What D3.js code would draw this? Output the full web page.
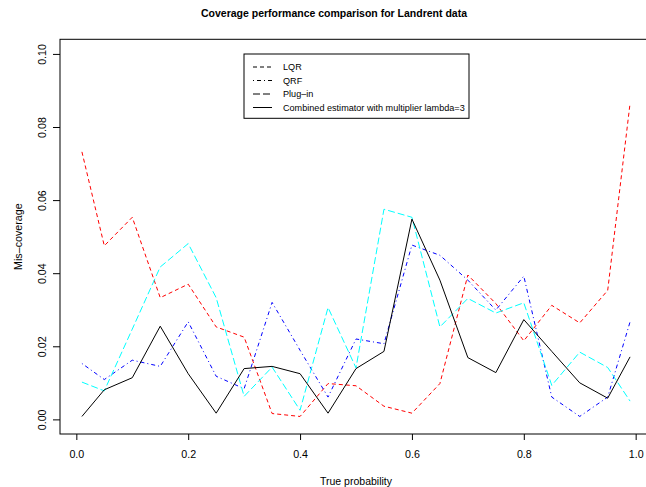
<!DOCTYPE html>
<html>
<head>
<meta charset="utf-8">
<script src="https://cdn.jsdelivr.net/npm/d3@7"></script>
<style>
  body { margin: 0; background: #fff; }
  text { font-family: "Liberation Sans", Arial, Helvetica, sans-serif; fill: #000; }
</style>
</head>
<body>
<div id="chart"></div>
<script>
// true probabilities on the x axis
var probs = [0.01, 0.05, 0.10, 0.15, 0.20, 0.25, 0.30, 0.35, 0.40, 0.45, 0.50,
             0.55, 0.60, 0.65, 0.70, 0.75, 0.80, 0.85, 0.90, 0.95, 0.99];

var lqr = [0.0732, 0.0475, 0.0553, 0.0333, 0.0370, 0.0253, 0.0225, 0.0016, 0.0008, 0.0098, 0.0092,
           0.0036, 0.0017, 0.0098, 0.0395, 0.0317, 0.0215, 0.0312, 0.0264, 0.0353, 0.0865];
var qrf = [0.0153, 0.0109, 0.0162, 0.0145, 0.0267, 0.0118, 0.0084, 0.0320, 0.0189, 0.0061, 0.0220,
           0.0207, 0.0477, 0.0449, 0.0381, 0.0299, 0.0392, 0.0061, 0.0008, 0.0061, 0.0267];
var plugin = [0.0102, 0.0078, 0.0247, 0.0417, 0.0481, 0.0333, 0.0063, 0.0143, 0.0025, 0.0306, 0.0141,
              0.0575, 0.0553, 0.0253, 0.0331, 0.0291, 0.0319, 0.0093, 0.0184, 0.0142, 0.0050];
var combined = [0.0008, 0.0081, 0.0114, 0.0255, 0.0125, 0.0017, 0.0139, 0.0145, 0.0125, 0.0017, 0.0139,
                0.0186, 0.0548, 0.0381, 0.0169, 0.0128, 0.0273, 0.0186, 0.0100, 0.0058, 0.0171];

var xTicks = [0, 0.2, 0.4, 0.6, 0.8, 1.0];
var yTicks = [0, 0.02, 0.04, 0.06, 0.08, 0.10];
var legendLabels = ["LQR", "QRF", "Plug\u2013in", "Combined estimator with multiplier lambda=3"];

var W = 646, H = 487;
var box = { left: 60, right: 652, top: 39.3, bottom: 434 };
var axisFont = "10.7px";

var x = d3.scaleLinear().domain([-0.0292, 1.0292]).range([box.left, box.right]);
var y = d3.scaleLinear().domain([-0.004, 0.104]).range([box.bottom, box.top]);

var svg = d3.select("#chart").append("svg")
  .attr("width", W)
  .attr("height", H);

var series = [
  { name: "LQR", values: lqr, color: "#FF0000", dash: "4,3" },
  { name: "QRF", values: qrf, color: "#0000FF", dash: "1,3,4,3" },
  { name: "Plug-in", values: plugin, color: "#00FFFF", dash: "7,3" },
  { name: "Combined", values: combined, color: "#000000", dash: null }
];

var line = d3.line()
  .x(function (d) { return x(d[0]); })
  .y(function (d) { return y(d[1]); });

svg.selectAll(".series")
  .data(series)
  .enter()
  .append("path")
  .attr("class", "series")
  .attr("fill", "none")
  .attr("stroke", function (d) { return d.color; })
  .attr("stroke-width", 1)
  .attr("stroke-dasharray", function (d) { return d.dash; })
  .attr("d", function (d) { return line(d3.zip(probs, d.values)); });

// plot box
svg.append("rect")
  .attr("x", box.left)
  .attr("y", box.top)
  .attr("width", box.right - box.left)
  .attr("height", box.bottom - box.top)
  .attr("fill", "none")
  .attr("stroke", "#000")
  .attr("stroke-width", 1);

// x axis
var xAxis = svg.append("g")
  .attr("transform", "translate(0," + box.bottom + ")")
  .call(d3.axisBottom(x).tickValues(xTicks).tickFormat(d3.format(".1f")).tickSize(6).tickSizeOuter(0));
xAxis.select(".domain").remove();
xAxis.selectAll("text")
  .attr("y", 24)
  .attr("dy", 0)
  .style("font-size", axisFont)
  .style("font-family", "'Liberation Sans', Arial, sans-serif");

// y axis
var yAxis = svg.append("g")
  .attr("transform", "translate(" + box.left + ",0)")
  .call(d3.axisLeft(y).tickValues(yTicks).tickFormat(d3.format(".2f")).tickSize(7).tickSizeOuter(0));
yAxis.select(".domain").remove();
yAxis.selectAll("text")
  .attr("x", 0)
  .attr("dy", 0)
  .attr("text-anchor", "middle")
  .attr("transform", "translate(-14,0) rotate(-90)")
  .style("font-size", axisFont)
  .style("font-family", "'Liberation Sans', Arial, sans-serif");

// titles
svg.append("text")
  .attr("x", 334)
  .attr("y", 17)
  .attr("text-anchor", "middle")
  .style("font-size", "10.5px")
  .style("font-weight", "bold")
  .text("Coverage performance comparison for Landrent data");

svg.append("text")
  .attr("x", 356)
  .attr("y", 485)
  .attr("text-anchor", "middle")
  .style("font-size", "10.5px")
  .text("True probability");

svg.append("text")
  .attr("transform", "translate(22," + ((box.top + box.bottom) / 2) + ") rotate(-90)")
  .attr("text-anchor", "middle")
  .style("font-size", "10.7px")
  .text("Mis\u2013coverage");

// legend
var legend = svg.append("g");
legend.append("rect")
  .attr("x", 244)
  .attr("y", 54)
  .attr("width", 225)
  .attr("height", 64.3)
  .attr("fill", "#fff")
  .attr("stroke", "#000");

var items = legend.selectAll(".item")
  .data(series)
  .enter()
  .append("g")
  .attr("class", "item")
  .attr("transform", function (d, i) { return "translate(0," + (67 + i * 13.5) + ")"; });

items.append("line")
  .attr("x1", 253)
  .attr("x2", 272)
  .attr("stroke", "#000")
  .attr("stroke-dasharray", function (d) { return d.dash; });

items.append("text")
  .attr("x", 283)
  .attr("dy", "0.35em")
  .style("font-size", "9.1px")
  .text(function (d, i) { return legendLabels[i]; });
</script>
</body>
</html>
